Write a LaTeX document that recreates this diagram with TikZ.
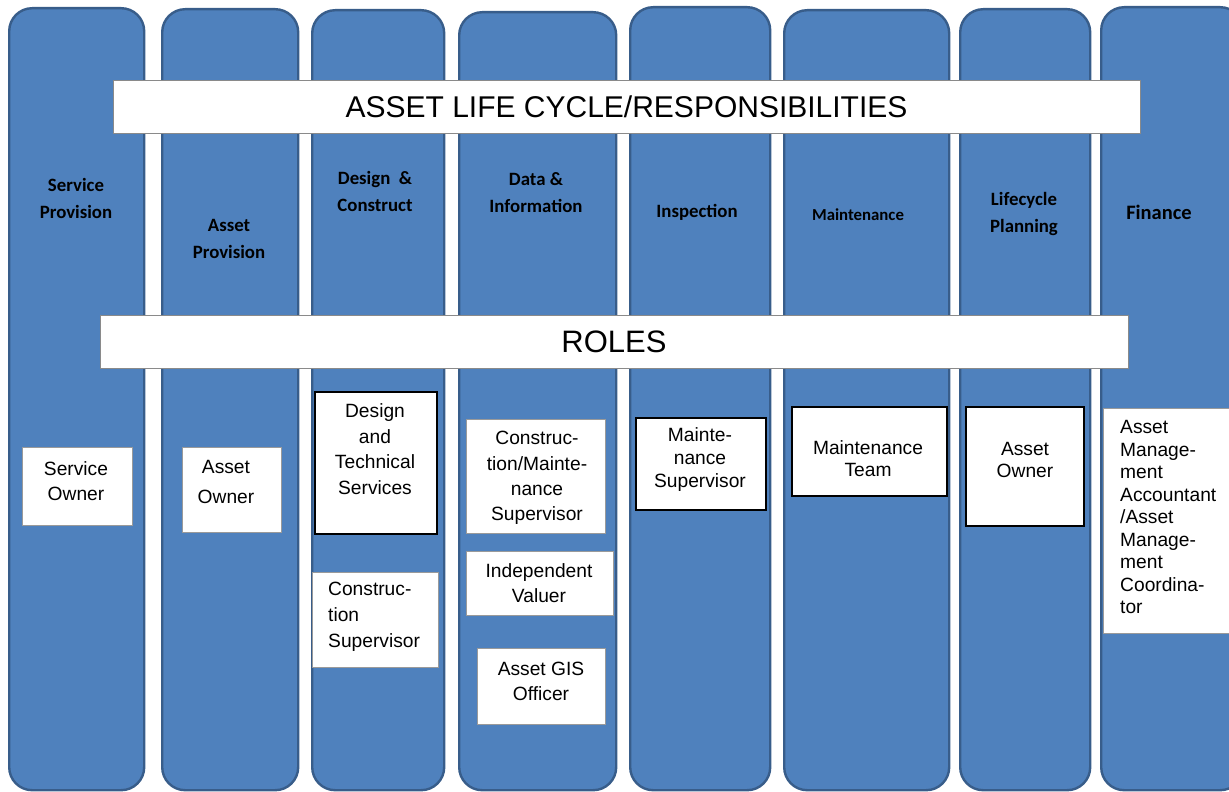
\documentclass[tikz,border=0pt]{standalone}
\usepackage{fontspec}
\setmainfont{Liberation Sans}
\newfontfamily\headfont{Carlito}
\definecolor{colfill}{HTML}{4F81BD}
\definecolor{colborder}{HTML}{385D8A}
\definecolor{bannerborder}{HTML}{8A8A8A}
\definecolor{thinborder}{HTML}{9A9A9A}
\tikzset{
  colbox/.style={draw=colborder, line width=2.4pt, fill=colfill, rounded corners=23pt, anchor=north west, inner sep=0pt},
  banner/.style={draw=bannerborder, line width=1pt, fill=white, inner sep=0pt, font=\fontsize{30}{35}\selectfont},
  rolethin/.style={draw=thinborder, line width=0.9pt, fill=white, inner sep=0pt},
  rolethick/.style={draw=black, line width=1.8pt, fill=white, inner sep=0pt},
  roletext/.style={inner sep=0pt, align=center, font=\fontsize{19.2}{25}\selectfont},
  head/.style={inner sep=0pt, align=center, font=\headfont\bfseries\fontsize{18.8}{27}\selectfont}
}
\newcommand{\boxnode}[6]{\node[#2, minimum width=#5pt-#3pt, minimum height=#6pt-#4pt, anchor=north west] (#1) at (#3,#4) {};}
\begin{document}
\begin{tikzpicture}[x=1pt,y=-1pt]
\useasboundingbox (0,0) rectangle (1229,792);
\clip (0,0) rectangle (1229,792);
% columns
\node[colbox, minimum width=135pt, minimum height=782pt] (c1) at (8,7) {};
\node[colbox, minimum width=136pt, minimum height=781pt] (c2) at (161,8) {};
\node[colbox, minimum width=132pt, minimum height=780pt] (c3) at (311,9) {};
\node[colbox, minimum width=157pt, minimum height=778pt] (c4) at (458,11) {};
\node[colbox, minimum width=140pt, minimum height=783pt] (c5) at (629,6) {};
\node[colbox, minimum width=165pt, minimum height=780pt] (c6) at (783,9) {};
\node[colbox, minimum width=130pt, minimum height=781pt] (c7) at (959,8) {};
\node[colbox, minimum width=142pt, minimum height=783pt] (c8) at (1100,6) {};
% banners
\node[banner, minimum width=1027pt, minimum height=52pt] (title) at (626.5,107) {ASSET LIFE CYCLE/RESPONSIBILITIES};
\node[banner, minimum width=1028pt, minimum height=53pt, font=\fontsize{31}{36}\selectfont] (roles) at (614,341.5) {ROLES};
% headings
\node[head] (h1) at (76,198) {Service\\Provision};
\node[head] (h2) at (229,239) {Asset\\Provision};
\node[head] (h3) at (375,191) {Design\ \ \&\\Construct};
\node[head] (h4) at (536,193) {Data \&\\Information};
\node[head] (h5) at (697,212) {Inspection};
\node[head, font=\headfont\bfseries\fontsize{16.8}{20}\selectfont] (h6) at (858,215) {Maintenance};
\node[head] (h7) at (1024,214) {Lifecycle\\Planning};
\node[head, font=\headfont\bfseries\fontsize{20.5}{24}\selectfont] (h8) at (1159,212) {Finance};
% role boxes
\boxnode{r1}{rolethin}{22}{447}{132}{525}
\node[roletext] (t1) at (76,481) {Service\\Owner};
\boxnode{r2}{rolethin}{182}{447}{281}{532}
\node[roletext, font=\fontsize{19.2}{30}\selectfont] (t2) at (226,482) {Asset\\Owner};
\boxnode{r3}{rolethick}{314}{391}{436}{533}
\node[roletext, font=\fontsize{19.2}{25.5}\selectfont] (t3) at (375,449) {Design\\and\\Technical\\Services};
\boxnode{r4}{rolethin}{312}{572}{438}{667}
\node[roletext, align=left, anchor=west, font=\fontsize{19.2}{26}\selectfont] (t4) at (328,617) {Construc-\\tion\\Supervisor};
\boxnode{r5}{rolethin}{466}{419}{605}{533}
\node[roletext, font=\fontsize{19.2}{25.3}\selectfont] (t5) at (537,478) {Construc-\\tion/Mainte-\\nance\\Supervisor};
\boxnode{r6}{rolethin}{466}{551}{613}{615}
\node[roletext] (t6) at (539,583.5) {Independent\\Valuer};
\boxnode{r7}{rolethin}{477}{648}{605}{724}
\node[roletext] (t7) at (541,681.5) {Asset GIS\\Officer};
\boxnode{r8}{rolethick}{635}{417}{765}{509}
\node[roletext, font=\fontsize{19.2}{23}\selectfont] (t8) at (700,460) {Mainte-\\nance\\Supervisor};
\boxnode{r9}{rolethick}{791}{406}{946}{495}
\node[roletext, font=\fontsize{19.2}{21.5}\selectfont] (t9) at (868,458.5) {Maintenance\\Team};
\boxnode{r10}{rolethick}{965}{406}{1083}{525}
\node[roletext, font=\fontsize{19.2}{22}\selectfont] (t10) at (1025,460) {Asset\\Owner};
\boxnode{r11}{rolethin}{1103}{408}{1240}{633}
\node[roletext, align=left, anchor=west, font=\fontsize{19.2}{22.5}\selectfont] (t11) at (1120,517) {Asset\\Manage-\\ment\\Accountant\\/Asset\\Manage-\\ment\\Coordina-\\tor};
\end{tikzpicture}
\end{document}
